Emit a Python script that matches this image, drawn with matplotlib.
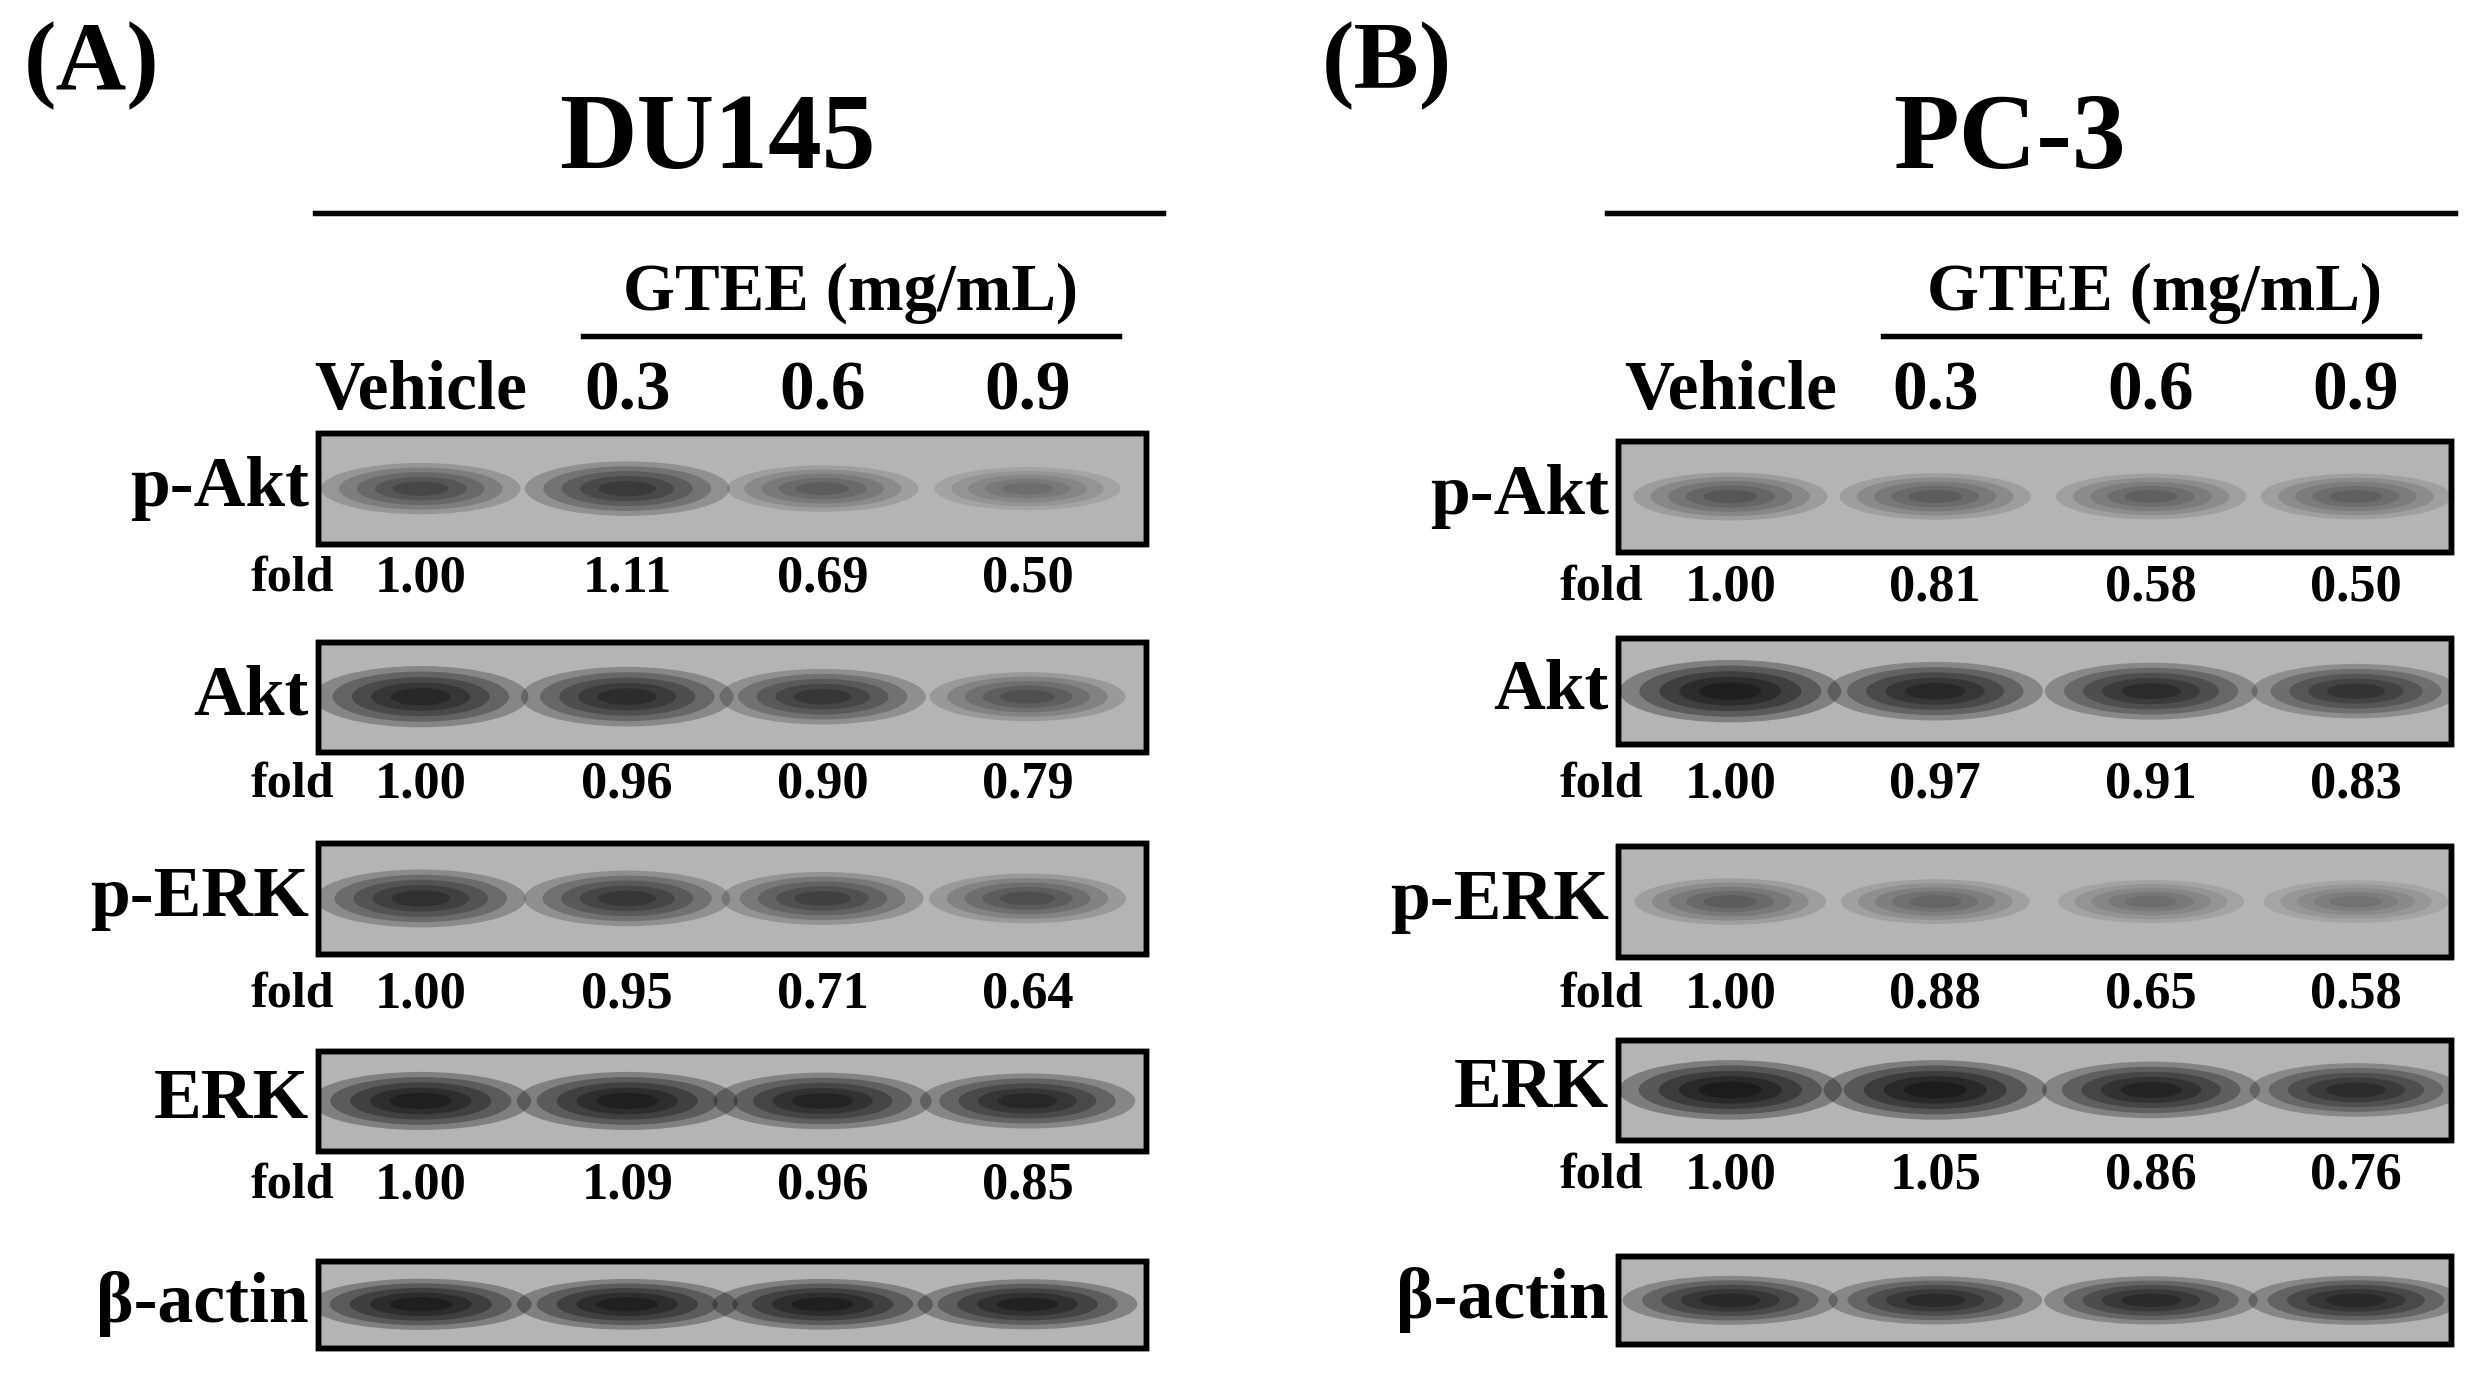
import matplotlib
matplotlib.use('Agg')
from matplotlib import pyplot as plt
from matplotlib.patches import Rectangle, Ellipse

plt.rcParams['font.family'] = ['Liberation Serif', 'DejaVu Serif']

lanes = ['Vehicle', '0.3', '0.6', '0.9']
proteins = ['p-Akt', 'Akt', 'p-ERK', 'ERK']

fold_a = {'p-Akt': [1.00, 1.11, 0.69, 0.50], 'Akt': [1.00, 0.96, 0.90, 0.79],
          'p-ERK': [1.00, 0.95, 0.71, 0.64], 'ERK': [1.00, 1.09, 0.96, 0.85]}
fold_b = {'p-Akt': [1.00, 0.81, 0.58, 0.50], 'Akt': [1.00, 0.97, 0.91, 0.83],
          'p-ERK': [1.00, 0.88, 0.65, 0.58], 'ERK': [1.00, 1.05, 0.86, 0.76]}
# band darkness (0 = none, 1 = black)
dark_a = {'p-Akt': [0.55, 0.65, 0.40, 0.30], 'Akt': [0.85, 0.80, 0.68, 0.48],
          'p-ERK': [0.75, 0.68, 0.60, 0.50], 'ERK': [0.95, 0.95, 0.90, 0.85],
          'β-actin': [0.97, 0.95, 0.95, 0.93]}
dark_b = {'p-Akt': [0.45, 0.40, 0.38, 0.38], 'Akt': [0.97, 0.85, 0.80, 0.72],
          'p-ERK': [0.40, 0.35, 0.30, 0.28], 'ERK': [1.00, 1.00, 0.90, 0.80],
          'β-actin': [0.85, 0.82, 0.82, 0.85]}

W, H = 1568, 873
s = 2471 / W
fig = plt.figure(figsize=(24.71, 13.76), dpi=100)
ax = fig.add_axes([0, 0, 1, 1])
ax.set_xlim(0, W)
ax.set_ylim(H, 0)
ax.axis('off')


def fs(px):
    # font size (pt) from cap height in reference display pixels
    return px / 0.66 * s * 72 / 100


def panel(letter, letter_x, cell, title_x, title_line, gtee_x, gtee_line,
          lane_x, box_x, boxes, fold_y, fold, dark):
    ax.text(letter_x, 42, letter, fontsize=fs(41), fontweight='bold', ha='center', va='center')
    ax.text(title_x, 90, cell, fontsize=fs(45), fontweight='bold', ha='center', va='center')
    ax.plot(title_line, [135, 135], color='black', lw=2.5 * s)
    ax.text(gtee_x, 186, 'GTEE (mg/mL)', fontsize=fs(28), fontweight='bold', ha='center', va='center')
    ax.plot(gtee_line, [213, 213], color='black', lw=2.5 * s)
    for x, lab in zip(lane_x, lanes):
        ax.text(x, 249, lab, fontsize=fs(29), fontweight='bold', ha='center', va='center')
    rows = proteins + ['β-actin']
    for i, p in enumerate(rows):
        y0, y1 = boxes[i]
        box = Rectangle((box_x[0], y0), box_x[1] - box_x[0], y1 - y0,
                        facecolor='#b4b4b4', edgecolor='black', lw=2.5 * s, zorder=1)
        ax.add_patch(box)
        ax.add_patch(Rectangle((box_x[0], y0), box_x[1] - box_x[0], y1 - y0,
                               facecolor='none', edgecolor='black', lw=2.5 * s, zorder=3))
        ax.text(box_x[0] - 6, (y0 + y1) / 2, p, fontsize=fs(30), fontweight='bold',
                ha='right', va='center')
        bh = (y1 - y0) * 0.5
        for x, d in zip(lane_x, dark[p]):
            bw = 135 * (0.8 + 0.25 * d)
            for k in range(5):
                f = 1 - k * 0.18
                e = Ellipse((x, (y0 + y1) / 2), bw * f, bh * f * (0.6 + 0.6 * d),
                            facecolor='black', edgecolor='none', alpha=d * 0.3, zorder=2)
                ax.add_patch(e)
                e.set_clip_path(box)
        if p in fold:
            ax.text(lane_x[0] - 55, fold_y[i], 'fold', fontsize=fs(21), fontweight='bold',
                    ha='right', va='center')
            for x, v in zip(lane_x, fold[p]):
                ax.text(x, fold_y[i], '%.2f' % v, fontsize=fs(22), fontweight='bold',
                        ha='center', va='center')


panel('(A)', 58, 'DU145', 455, [200, 738], 540, [370, 710],
      [267, 398, 522, 652], [202, 727],
      [(275, 345), (407, 477), (535, 605), (667, 730), (800, 855)],
      [367, 498, 631, 752], fold_a, dark_a)
panel('(B)', 880, 'PC-3', 1275, [1020, 1558], 1367, [1195, 1535],
      [1098, 1228, 1365, 1495], [1027, 1555],
      [(280, 350), (405, 472), (537, 607), (660, 723), (797, 853)],
      [373, 498, 631, 746], fold_b, dark_b)

fig.savefig('out.png', dpi=100, facecolor='white')
